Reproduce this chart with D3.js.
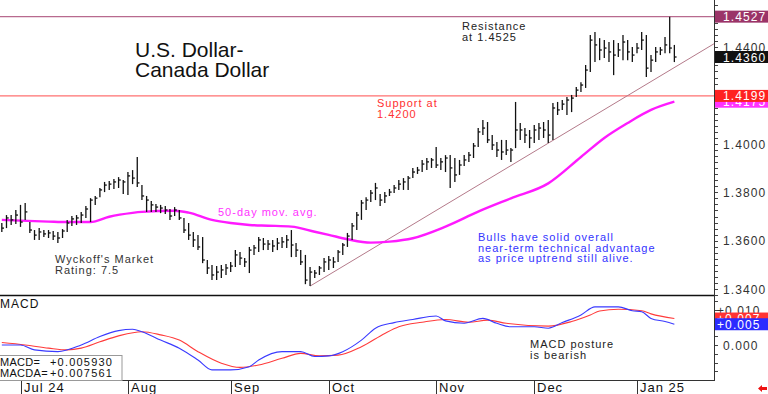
<!DOCTYPE html>
<html>
<head>
<meta charset="utf-8">
<script src="https://cdn.jsdelivr.net/npm/d3@7"></script>
<style>
body { margin: 0; background: #fff; }
svg { display: block; font-family: 'Liberation Sans', Arial, sans-serif; }
</style>
</head>
<body>
<svg id="chart" width="768" height="394"></svg>
<script>
// one bar per weekday, index 0 = Jul 1 2024; first bar (Jun 25) is index -4
var firstBar = -4;

var highs = [
  1.3673, 1.3706, 1.3706, 1.3727, 1.3748, 1.3756, 1.3677, 1.3644, 1.3652, 1.3644,
  1.3644, 1.3640, 1.3636, 1.3648, 1.3686, 1.3702, 1.3706, 1.3719, 1.3743, 1.3776,
  1.3785, 1.3818, 1.3843, 1.3847, 1.3855, 1.3863, 1.3851, 1.3884, 1.3892, 1.3946,
  1.3830, 1.3785, 1.3764, 1.3752, 1.3748, 1.3743, 1.3731, 1.3739, 1.3727, 1.3694,
  1.3673, 1.3636, 1.3623, 1.3615, 1.3520, 1.3499, 1.3495, 1.3499, 1.3503, 1.3512,
  1.3561, 1.3553, 1.3528, 1.3574, 1.3582, 1.3615, 1.3611, 1.3603, 1.3603, 1.3611,
  1.3615, 1.3623, 1.3644, 1.3590, 1.3561, 1.3541, 1.3491, 1.3479, 1.3495, 1.3528,
  1.3537, 1.3532, 1.3561, 1.3590, 1.3632, 1.3673, 1.3719, 1.3768, 1.3780, 1.3810,
  1.3839, 1.3793, 1.3801, 1.3814, 1.3830, 1.3851, 1.3859, 1.3868, 1.3901, 1.3905,
  1.3934, 1.3942, 1.3942, 1.3988, 1.3942, 1.3954, 1.3954, 1.3942, 1.3934, 1.3954,
  1.3967, 1.4004, 1.4066, 1.4099, 1.4091, 1.4037, 1.4008, 1.4017, 1.4017, 1.3983,
  1.4174, 1.4087, 1.4066, 1.4058, 1.4079, 1.4087, 1.4091, 1.4099, 1.4170, 1.4174,
  1.4182, 1.4194, 1.4203, 1.4236, 1.4256, 1.4327, 1.4451, 1.4463, 1.4438, 1.4430,
  1.4422, 1.4430, 1.4418, 1.4451, 1.4430, 1.4401, 1.4418, 1.4463, 1.4451, 1.4368,
  1.4401, 1.4401, 1.4443, 1.4527, 1.4410
];
var lows = [
  1.3636, 1.3652, 1.3665, 1.3669, 1.3657, 1.3686, 1.3632, 1.3603, 1.3603, 1.3615,
  1.3611, 1.3603, 1.3590, 1.3611, 1.3636, 1.3661, 1.3665, 1.3673, 1.3694, 1.3677,
  1.3748, 1.3780, 1.3801, 1.3810, 1.3814, 1.3818, 1.3793, 1.3789, 1.3834, 1.3822,
  1.3768, 1.3719, 1.3719, 1.3719, 1.3714, 1.3710, 1.3686, 1.3702, 1.3686, 1.3632,
  1.3603, 1.3574, 1.3561, 1.3507, 1.3462, 1.3437, 1.3437, 1.3446, 1.3458, 1.3470,
  1.3491, 1.3499, 1.3491, 1.3466, 1.3541, 1.3553, 1.3561, 1.3561, 1.3553, 1.3561,
  1.3570, 1.3570, 1.3532, 1.3532, 1.3499, 1.3420, 1.3412, 1.3446, 1.3458, 1.3470,
  1.3479, 1.3487, 1.3512, 1.3541, 1.3574, 1.3603, 1.3644, 1.3686, 1.3727, 1.3760,
  1.3768, 1.3743, 1.3756, 1.3785, 1.3797, 1.3810, 1.3810, 1.3810, 1.3859, 1.3876,
  1.3884, 1.3892, 1.3901, 1.3901, 1.3892, 1.3884, 1.3818, 1.3843, 1.3872, 1.3909,
  1.3926, 1.3942, 1.3988, 1.4037, 1.4004, 1.3975, 1.3946, 1.3934, 1.3954, 1.3926,
  1.3983, 1.4017, 1.4004, 1.3983, 1.4004, 1.4017, 1.4025, 1.4004, 1.4017, 1.4120,
  1.4141, 1.4120, 1.4132, 1.4194, 1.4215, 1.4232, 1.4298, 1.4339, 1.4347, 1.4356,
  1.4339, 1.4285, 1.4360, 1.4347, 1.4347, 1.4339, 1.4376, 1.4389, 1.4277, 1.4298,
  1.4339, 1.4368, 1.4376, 1.4376, 1.4339
];
var closes = [
  1.3652, 1.3694, 1.3686, 1.3706, 1.3677, 1.3719, 1.3644, 1.3623, 1.3636, 1.3628,
  1.3632, 1.3619, 1.3611, 1.3640, 1.3673, 1.3690, 1.3694, 1.3706, 1.3731, 1.3768,
  1.3776, 1.3810, 1.3830, 1.3834, 1.3843, 1.3851, 1.3843, 1.3868, 1.3859, 1.3839,
  1.3785, 1.3768, 1.3748, 1.3739, 1.3735, 1.3727, 1.3702, 1.3727, 1.3694, 1.3644,
  1.3623, 1.3603, 1.3574, 1.3520, 1.3487, 1.3458, 1.3470, 1.3479, 1.3487, 1.3495,
  1.3541, 1.3528, 1.3512, 1.3561, 1.3570, 1.3603, 1.3586, 1.3586, 1.3578, 1.3590,
  1.3595, 1.3603, 1.3582, 1.3561, 1.3512, 1.3437, 1.3470, 1.3466, 1.3487, 1.3512,
  1.3520, 1.3512, 1.3553, 1.3582, 1.3619, 1.3661, 1.3706, 1.3756, 1.3768, 1.3797,
  1.3818, 1.3768, 1.3785, 1.3801, 1.3818, 1.3834, 1.3843, 1.3859, 1.3884, 1.3892,
  1.3917, 1.3926, 1.3934, 1.3913, 1.3926, 1.3942, 1.3901, 1.3872, 1.3913, 1.3934,
  1.3954, 1.3992, 1.4050, 1.4066, 1.4017, 1.3996, 1.3975, 1.3967, 1.3975, 1.3975,
  1.4058, 1.4058, 1.4037, 1.4025, 1.4058, 1.4066, 1.4058, 1.4037, 1.4149, 1.4141,
  1.4165, 1.4182, 1.4190, 1.4223, 1.4244, 1.4306, 1.4430, 1.4410, 1.4389, 1.4397,
  1.4381, 1.4368, 1.4389, 1.4422, 1.4381, 1.4368, 1.4397, 1.4430, 1.4314, 1.4347,
  1.4381, 1.4389, 1.4410, 1.4397, 1.4360
];

// 50-day moving average
var maIdx = [-4, 6, 10, 15, 19, 24, 26, 33, 36, 41, 45, 49, 53, 58, 63, 66, 70, 75, 79, 84,
  91, 98, 105, 113, 120, 125, 130, 135, 140];
var maVals = [1.3686, 1.3679, 1.3677, 1.3677, 1.3699, 1.3715, 1.3719, 1.3724, 1.3716, 1.3686,
  1.3673, 1.3665, 1.3662, 1.3658, 1.3637, 1.3624, 1.3606, 1.3592, 1.3596, 1.3610,
  1.3658, 1.3720, 1.3775, 1.3837, 1.3946, 1.4025, 1.4087, 1.4141, 1.4175];

// MACD (blue) and its average MACDA (red)
var macdIdx = [-4, 0, 3, 8, 13, 17, 21, 24, 26, 30, 34, 38, 41, 45, 49, 51, 56, 60, 63, 66,
  69, 73, 76, 80, 84, 89, 91, 95, 99, 102, 105, 110, 113, 116, 120, 123, 128, 131, 133, 135,
  138, 140];
var macdVals = [0.0000, 0.0000, -0.0014, -0.0019, 0.0000, 0.0024, 0.0041, 0.0045, 0.0038, 0.0014,
  -0.0009, -0.0043, -0.0071, -0.0071, -0.0062, -0.0043, -0.0019, -0.0019, -0.0033, -0.0031,
  -0.0019, 0.0014, 0.0048, 0.0064, 0.0073, 0.0083, 0.0069, 0.0062, 0.0076, 0.0062,
  0.0052, 0.0052, 0.0048, 0.0064, 0.0086, 0.0109, 0.0109, 0.0098, 0.0095, 0.0076,
  0.0067, 0.005930];
var signalIdx = [-4, 1, 6, 10, 13, 17, 21, 26, 30, 34, 38, 43, 47, 51, 56, 60, 64, 68, 73, 78,
  81, 86, 91, 96, 100, 104, 113, 118, 122, 124, 128, 133, 135, 140];
var signalVals = [0.0007, 0.0000, -0.0009, -0.0014, -0.0009, 0.0009, 0.0026, 0.0038, 0.0029, 0.0014,
  -0.0019, -0.0052, -0.0064, -0.0057, -0.0038, -0.0024, -0.0031, -0.0029, -0.0005, 0.0033,
  0.0052, 0.0065, 0.0073, 0.0065, 0.0071, 0.0062, 0.0054, 0.0067, 0.0086, 0.0097,
  0.0102, 0.0098, 0.0089, 0.007561];

var monthIdx = [0, 23, 45, 66, 89, 110, 132];
var monthLabels = ['Jul 24', 'Aug', 'Sep', 'Oct', 'Nov', 'Dec', 'Jan 25'];
var priceTicks = [1.34, 1.36, 1.38, 1.40, 1.42, 1.44];
var macdTicks = [0.000, 0.010];

var resistance = 1.4527;
var support = 1.4199;
var trendIdx = [62, 148.5];
var trendVals = [1.3412, 1.4415];

var plotRight = 714, priceBottom = 295, macdBottom = 380;

var svg = d3.select('#chart');
var x = d3.scaleLinear().domain([0, 132]).range([20.5, 637]);
var y = d3.scaleLinear().domain([1.34, 1.40]).range([289, 144]);
var ym = d3.scaleLinear().domain([0, 0.010]).range([345, 310]);

var defs = svg.append('defs');
defs.append('clipPath').attr('id', 'clipMain')
  .append('rect').attr('x', 0).attr('y', 0).attr('width', plotRight).attr('height', priceBottom);
defs.append('clipPath').attr('id', 'clipMacd')
  .append('rect').attr('x', 0).attr('y', priceBottom + 1).attr('width', plotRight).attr('height', macdBottom - priceBottom - 1);

var main = svg.append('g').attr('clip-path', 'url(#clipMain)');

// resistance / support
main.append('line')
  .attr('x1', 0).attr('x2', plotRight)
  .attr('y1', y(resistance)).attr('y2', y(resistance))
  .attr('stroke', '#b86a8e').attr('stroke-width', 1.2);
main.append('line')
  .attr('x1', 0).attr('x2', plotRight)
  .attr('y1', y(support)).attr('y2', y(support))
  .attr('stroke', '#ff7070').attr('stroke-width', 1.4);

// uptrend line
main.append('path')
  .datum(trendIdx.map(function(d, k) { return [d, trendVals[k]]; }))
  .attr('d', d3.line().x(function(d) { return x(d[0]); }).y(function(d) { return y(d[1]); }))
  .attr('fill', 'none').attr('stroke', '#b47a8a').attr('stroke-width', 1);

// moving average
main.append('path')
  .datum(maIdx.map(function(d, k) { return [d, maVals[k]]; }))
  .attr('d', d3.line().curve(d3.curveMonotoneX)
    .x(function(d) { return x(d[0]); }).y(function(d) { return y(d[1]); }))
  .attr('fill', 'none').attr('stroke', '#ff1aff').attr('stroke-width', 2.4);

// price bars
var bars = highs.map(function(h, k) {
  return {i: firstBar + k, h: h, l: lows[k], c: closes[k]};
});
var barG = main.append('g').attr('stroke', '#111').attr('stroke-width', 1.3);
barG.selectAll('line.hl').data(bars).enter().append('line')
  .attr('class', 'hl')
  .attr('x1', function(d) { return x(d.i); }).attr('x2', function(d) { return x(d.i); })
  .attr('y1', function(d) { return y(d.h); }).attr('y2', function(d) { return y(d.l); });
barG.selectAll('line.cl').data(bars).enter().append('line')
  .attr('class', 'cl')
  .attr('x1', function(d) { return x(d.i); }).attr('x2', function(d) { return x(d.i) + 2.2; })
  .attr('y1', function(d) { return y(d.c); }).attr('y2', function(d) { return y(d.c); });

// MACD panel
var macdG = svg.append('g').attr('clip-path', 'url(#clipMacd)');
var mline = d3.line().curve(d3.curveMonotoneX)
  .x(function(d) { return x(d[0]); }).y(function(d) { return ym(d[1]); });
macdG.append('path')
  .datum(signalIdx.map(function(d, k) { return [d, signalVals[k]]; }))
  .attr('d', mline).attr('fill', 'none').attr('stroke', '#ff3b3b').attr('stroke-width', 1.1);
macdG.append('path')
  .datum(macdIdx.map(function(d, k) { return [d, macdVals[k]]; }))
  .attr('d', mline).attr('fill', 'none').attr('stroke', '#3a3aff').attr('stroke-width', 1.1);

// frame
svg.append('line').attr('x1', 0).attr('x2', plotRight + 1).attr('y1', priceBottom + 0.5).attr('y2', priceBottom + 0.5)
  .attr('stroke', '#111').attr('stroke-width', 1.6);
svg.append('line').attr('x1', 0).attr('x2', plotRight + 1).attr('y1', macdBottom + 0.5).attr('y2', macdBottom + 0.5)
  .attr('stroke', '#333').attr('stroke-width', 1);
svg.append('line').attr('x1', plotRight + 0.5).attr('x2', plotRight + 0.5).attr('y1', 0).attr('y2', macdBottom + 1)
  .attr('stroke', '#333').attr('stroke-width', 1);

// right axis minor ticks
svg.append('g').selectAll('line').data(d3.range(1.3375, 1.4601, 0.0025)).enter().append('line')
  .attr('x1', plotRight + 1).attr('x2', plotRight + 4)
  .attr('y1', function(d) { return Math.round(y(d)) + 0.5; }).attr('y2', function(d) { return Math.round(y(d)) + 0.5; })
  .attr('stroke', '#444').attr('stroke-width', 1);
svg.append('g').selectAll('line').data(d3.range(-0.0075, 0.0126, 0.0025)).enter().append('line')
  .attr('x1', plotRight + 1).attr('x2', plotRight + 4)
  .attr('y1', function(d) { return Math.round(ym(d)) + 0.5; }).attr('y2', function(d) { return Math.round(ym(d)) + 0.5; })
  .attr('stroke', '#444').attr('stroke-width', 1);

var axisFont = {size: 12, ls: 1.1};
svg.append('g').selectAll('text').data(priceTicks).enter().append('text')
  .attr('x', 723).attr('y', function(d) { return y(d) + 4.5; })
  .attr('font-size', axisFont.size).attr('letter-spacing', axisFont.ls).attr('fill', '#333')
  .text(d3.format('.4f'));
svg.append('g').selectAll('text').data(macdTicks).enter().append('text')
  .attr('x', function(d) { return d > 0 ? 717 : 723; }).attr('y', function(d) { return ym(d) + 4.5; })
  .attr('font-size', axisFont.size).attr('letter-spacing', axisFont.ls).attr('fill', '#333')
  .text(function(d) { return (d > 0 ? '+' : '') + d3.format('.3f')(d); });

function valueBox(yv, fill, txt, tx) {
  svg.append('rect').attr('x', plotRight + 1).attr('y', yv - 6).attr('width', 768 - plotRight).attr('height', 12)
    .attr('fill', fill);
  svg.append('text').attr('x', tx || 723).attr('y', yv + 4.5)
    .attr('font-size', axisFont.size).attr('letter-spacing', axisFont.ls).attr('fill', '#fff')
    .text(txt);
}
var fmt4 = d3.format('.4f');
valueBox(y(resistance), '#9b3468', fmt4(resistance));
valueBox(y(closes[closes.length - 1]), '#111', fmt4(closes[closes.length - 1]));
valueBox(y(maVals[maVals.length - 1]), '#ff33ff', fmt4(maVals[maVals.length - 1]));
valueBox(y(support), '#ff2222', fmt4(support));
var fmtM = function(v) { return (v >= 0 ? '+' : '') + d3.format('.3f')(Math.floor(v * 1000) / 1000); };
valueBox(ym(signalVals[signalVals.length - 1]), '#ff3333', fmtM(signalVals[signalVals.length - 1]), 717);
valueBox(ym(macdVals[macdVals.length - 1]), '#2b2bff', fmtM(macdVals[macdVals.length - 1]), 717);

// months
var mg = svg.append('g');
mg.selectAll('line').data(monthIdx).enter().append('line')
  .attr('x1', function(d) { return Math.round(x(d)) + 0.5; }).attr('x2', function(d) { return Math.round(x(d)) + 0.5; })
  .attr('y1', macdBottom).attr('y2', 394).attr('stroke', '#333');
mg.selectAll('text').data(monthIdx).enter().append('text')
  .attr('x', function(d) { return Math.round(x(d)) + 3; }).attr('y', 392)
  .attr('font-size', 13).attr('letter-spacing', 1).attr('fill', '#111')
  .text(function(d, k) { return monthLabels[k]; });

// annotations
function note(lines, x0, y0, lh, color, size) {
  var t = svg.append('text').attr('font-size', size || 11).attr('letter-spacing', 1).attr('fill', color);
  lines.forEach(function(s, k) {
    t.append('tspan').attr('x', x0).attr('y', y0 + k * lh).text(s);
  });
}
svg.append('text').attr('font-size', 21).attr('fill', '#111')
  .selectAll('tspan').data(['U.S. Dollar-', 'Canada Dollar']).enter().append('tspan')
  .attr('x', 135).attr('y', function(d, k) { return 57 + k * 20; }).text(function(d) { return d; });
note(['Resistance', 'at 1.4525'], 462, 30, 10.5, '#222');
note(['Support at', '1.4200'], 377, 107, 10.5, '#ff3030');
note(['50-day mov. avg.'], 218, 216, 10.5, '#ff33ff');
note(["Wyckoff's Market", 'Rating: 7.5'], 55, 263, 10.5, '#333');
note(['Bulls have solid overall', 'near-term technical advantage', 'as price uptrend still alive.'], 478, 241, 10.7, '#3333ff');
note(['MACD posture', 'is bearish'], 530, 348, 10.8, '#222');
note(['MACD'], 0, 308, 10, '#111', 12);

// MACD readout box
svg.append('rect').attr('x', -1).attr('y', 355.5).attr('width', 123).attr('height', 25)
  .attr('fill', '#fff').attr('stroke', '#999');
var ro = svg.append('g').attr('font-size', 11).attr('fill', '#111');
ro.append('text').attr('x', 0).attr('y', 366).attr('letter-spacing', 0.3).text('MACD=');
ro.append('text').attr('x', 50).attr('y', 366).attr('letter-spacing', 1.2)
  .text('+' + d3.format('.6f')(macdVals[macdVals.length - 1]));
ro.append('text').attr('x', 0).attr('y', 377).attr('letter-spacing', 0.3).text('MACDA=');
ro.append('text').attr('x', 50).attr('y', 377).attr('letter-spacing', 1.2)
  .text('+' + d3.format('.6f')(signalVals[signalVals.length - 1]));

// small red arrow, bottom right
svg.append('path').attr('d', 'M758,388.5 L762,385 L762,387 L767,387 L767,390 L762,390 L762,392 Z')
  .attr('fill', '#ee1111');
</script>
</body>
</html>
